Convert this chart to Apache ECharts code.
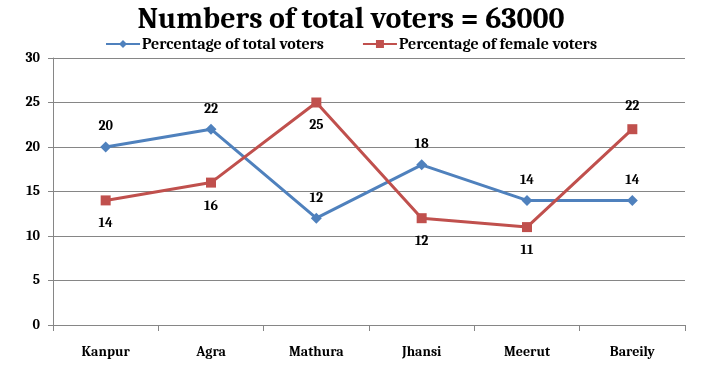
<!DOCTYPE html>
<html><head><meta charset="utf-8">
<script src="https://cdn.jsdelivr.net/npm/echarts@6/dist/echarts.min.js"></script>
<style>html,body{margin:0;padding:0;background:#fff}#c{width:702px;height:370px}</style>
</head><body><div id="c"></div>
<script>
const categories = ['Kanpur','Agra','Mathura','Jhansi','Meerut','Bareily'];
const totalVoters = [20,22,12,18,14,14];
const femaleVoters = [14,16,25,12,11,22];
const femaleLabelPos = ['bottom','bottom','bottom','bottom','bottom','top'];
const yTicks = {min:0,max:30,interval:5};
const font = 'Cambria, "Liberation Serif", "DejaVu Serif", serif';
const chart = echarts.init(document.getElementById('c'));
chart.setOption({
  animation:false,
  title:{text:'Numbers of total voters = 63000',left:'center',top:0,
    textStyle:{fontFamily:font,fontSize:30,fontWeight:'bold',color:'#000'}},
  legend:{top:31,left:'center',itemGap:38,itemWidth:34,itemHeight:10,
    textStyle:{fontFamily:font,fontSize:16,fontWeight:'bold',color:'#000',padding:[0,0,0,-3]},
    data:['Percentage of total voters','Percentage of female voters']},
  grid:{left:53,right:17,top:58,bottom:45,containLabel:false},
  xAxis:{type:'category',data:categories,boundaryGap:true,
    axisLine:{lineStyle:{color:'#868686'}},
    axisTick:{show:true,alignWithLabel:false,length:6,lineStyle:{color:'#868686'}},
    axisLabel:{fontFamily:font,fontSize:14,fontWeight:'bold',color:'#000',margin:20}},
  yAxis:{type:'value',min:yTicks.min,max:yTicks.max,interval:yTicks.interval,
    axisLine:{show:true,lineStyle:{color:'#868686'}},
    axisTick:{show:true,length:5,lineStyle:{color:'#868686'}},
    splitLine:{lineStyle:{color:'#868686'}},
    axisLabel:{fontFamily:font,fontSize:14,fontWeight:'bold',color:'#000',margin:13}},
  series:[
    {name:'Percentage of total voters',type:'line',data:totalVoters,symbol:'diamond',symbolSize:11,
      itemStyle:{color:'#4F81BD'},lineStyle:{width:3,color:'#4F81BD'},
      label:{show:true,position:'top',distance:8,fontFamily:font,fontSize:14,fontWeight:'bold',color:'#000'}},
    {name:'Percentage of female voters',type:'line',symbol:'rect',symbolSize:10,
      data:femaleVoters.map((v,i)=>({value:v,label:{position:femaleLabelPos[i]}})),
      itemStyle:{color:'#C0504D'},lineStyle:{width:3,color:'#C0504D'},
      label:{show:true,distance:11,fontFamily:font,fontSize:14,fontWeight:'bold',color:'#000'}}
  ]
});
</script></body></html>
